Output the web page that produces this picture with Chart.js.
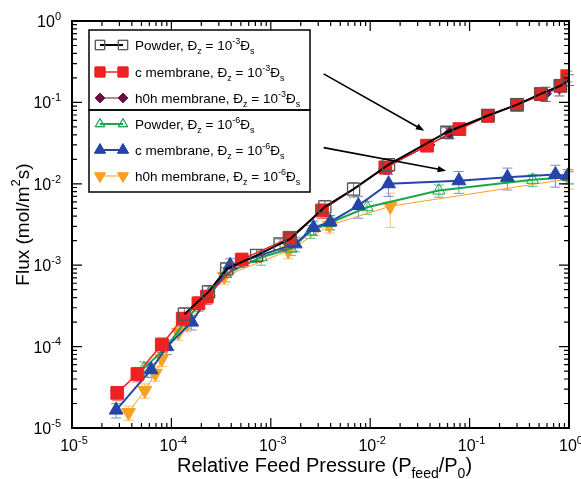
<!DOCTYPE html>
<html>
<head>
<meta charset="utf-8">
<script src="https://cdn.jsdelivr.net/npm/chart.js@4.4.1/dist/chart.umd.min.js"></script>
<style>
  html, body { margin: 0; padding: 0; background: #fff; }
</style>
</head>
<body>
<canvas id="chart" width="581" height="479"></canvas>
<script>
(function () {
  "use strict";

  // Powder, Dz = 1e-3 Ds (black open squares)
  var powder3X = [1.35e-4, 2.36e-4, 3.6e-4, 7.2e-4, 1.24e-3, 1.57e-3, 3.5e-3, 6.8e-3, 1.53e-2, 5.9e-2, 0.153, 0.30, 0.52, 0.82, 1.0];
  var powder3Y = [2.5e-4, 4.7e-4, 9.0e-4, 1.32e-3, 1.83e-3, 2.1e-3, 5.2e-3, 8.6e-3, 1.72e-2, 4.3e-2, 6.9e-2, 9.4e-2, 0.127, 0.16, 0.19];
  var powder3E = [0.2, 0.2, 0.18, 0.18, 0.15, 0.15, 0.2, 0.2, 0.18, 0.15, 0.15, 0.15, 0.15, 0.15, 0.15];

  // c membrane, Dz = 1e-3 Ds (red squares)
  var cMem3X = [2.85e-5, 4.55e-5, 8.0e-5, 1.3e-4, 1.87e-4, 2.27e-4, 5.1e-4, 1.54e-3, 3.27e-3, 1.42e-2, 3.73e-2, 7.9e-2, 0.153, 0.30, 0.52, 0.82, 0.96];
  var cMem3Y = [2.7e-5, 4.6e-5, 1.06e-4, 2.2e-4, 3.4e-4, 4.1e-4, 1.17e-3, 2.17e-3, 4.7e-3, 1.59e-2, 2.94e-2, 4.7e-2, 6.85e-2, 9.35e-2, 0.126, 0.16, 0.21];
  var cMem3E = [0.2, 0.2, 0.2, 0.2, 0.2, 0.2, 0.2, 0.2, 0.2, 0.15, 0.15, 0.15, 0.15, 0.15, 0.15, 0.15, 0.15];

  // h0h membrane, Dz = 1e-3 Ds (purple diamonds)
  var h0h3X = [1.4e-2, 3.9e-2, 6.3e-2, 0.153, 0.30, 0.58, 0.8];
  var h0h3Y = [1.55e-2, 3.0e-2, 4.2e-2, 6.8e-2, 9.3e-2, 0.128, 0.15];
  var h0h3E = [0.15, 0.15, 0.15, 0.15, 0.15, 0.2, 0.2];

  // Powder, Dz = 1e-6 Ds (green open triangles)
  var powder6X = [5.3e-5, 9.0e-5, 1.4e-4, 2.4e-4, 3.5e-4, 8.0e-4, 1.6e-3, 2.5e-3, 3.9e-3, 9.3e-3, 4.9e-2, 0.43, 1.0];
  var powder6Y = [5.4e-5, 1.0e-4, 2.1e-4, 4.6e-4, 7.8e-4, 1.25e-3, 1.6e-3, 2.6e-3, 3.3e-3, 5.15e-3, 8.25e-3, 1.12e-2, 1.2e-2];
  var powder6E = [0.2, 0.2, 0.2, 0.2, 0.2, 0.2, 0.18, 0.18, 0.18, 0.18, 0.17, 0.17, 0.17];

  // c membrane, Dz = 1e-6 Ds (blue triangles)
  var cMem6X = [2.78e-5, 6.25e-5, 9.0e-5, 1.6e-4, 3.9e-4, 1.76e-3, 2.69e-3, 3.96e-3, 7.6e-3, 1.53e-2, 7.8e-2, 0.24, 0.73, 0.97];
  var cMem6Y = [1.66e-5, 5.2e-5, 1.0e-4, 2.0e-4, 1.0e-3, 1.83e-3, 2.9e-3, 3.4e-3, 5.4e-3, 1.0e-2, 1.09e-2, 1.2e-2, 1.3e-2, 1.25e-2];
  var cMem6E = [0.2, 0.2, 0.2, 0.2, 0.2, 0.2, 0.2, 0.2, 0.3, 0.3, 0.3, 0.3, 0.3, 0.2];

  // h0h membrane, Dz = 1e-6 Ds (orange down triangles)
  var h0h6X = [3.7e-5, 5.4e-5, 6.9e-5, 8.0e-5, 1.18e-4, 1.43e-4, 3.4e-4, 1.5e-3, 3.9e-3, 1.59e-2, 1.0];
  var h0h6Y = [1.55e-5, 2.9e-5, 4.7e-5, 7.1e-5, 1.5e-4, 1.9e-4, 7.3e-4, 1.5e-3, 3.1e-3, 5.3e-3, 1.15e-2];
  var h0h6E = [0.2, 0.2, 0.2, 0.2, 0.2, 0.2, 0.2, 0.2, 0.2, 0.45, 0.25];

  var xDecades = [-5, -4, -3, -2, -1, 0];
  var yDecades = [-5, -4, -3, -2, -1, 0];

  // arrows from the legend to the curve families: [x0, y0, x1, y1]
  var arrow3 = [3.4e-3, 0.224, 3.5e-2, 4.5e-2];
  var arrow6 = [3.4e-3, 2.78e-2, 5.8e-2, 1.45e-2];

  var FONT = '"Liberation Sans", Arial, Helvetica, sans-serif';

  function pts(xs, ys) {
    return xs.map(function (x, i) { return { x: x, y: ys[i] }; });
  }

  var series = [
    { label: "powder3", xs: powder3X, ys: powder3Y, err: powder3E, color: "#000000", fill: "rgba(0,0,0,0)",
      barColor: "#777777", style: "rect", radius: 8.5, rotation: 0, width: 2, order: 0, dz: "-3", name: "Powder, " },
    { label: "cmem3", xs: cMem3X, ys: cMem3Y, err: cMem3E, color: "#ee2222", fill: "#ee2222",
      barColor: "#f06060", style: "rect", radius: 9, rotation: 0, width: 1.5, order: 1, dz: "-3", name: "c membrane, " },
    { label: "h0h3", xs: h0h3X, ys: h0h3Y, err: h0h3E, color: "#6a1040", fill: "#6a1040",
      barColor: "#8a4a70", style: "rectRot", radius: 6, rotation: 0, width: 1, order: 2, dz: "-3", name: "h0h membrane, " },
    { label: "powder6", xs: powder6X, ys: powder6Y, err: powder6E, color: "#1aa64b", fill: "rgba(0,0,0,0)",
      barColor: "#5cc08a", style: "triangle", radius: 7, rotation: 0, width: 2, order: 4, dz: "-6", name: "Powder, " },
    { label: "cmem6", xs: cMem6X, ys: cMem6Y, err: cMem6E, color: "#2546a8", fill: "#2546a8",
      barColor: "#7a8ad0", style: "triangle", radius: 8, rotation: 0, width: 2, order: 3, dz: "-6", name: "c membrane, " },
    { label: "h0h6", xs: h0h6X, ys: h0h6Y, err: h0h6E, color: "#f9a125", fill: "#f9a125",
      barColor: "#fbc070", style: "triangle", radius: 8, rotation: 180, width: 1, order: 5, dz: "-6", name: "h0h membrane, " }
  ];

  // text with sub (1) and superscript (2) parts
  function richWidth(ctx, parts, size) {
    var w = 0;
    parts.forEach(function (p) {
      ctx.font = (p[1] ? Math.round(size * 0.68) : size) + "px " + FONT;
      w += ctx.measureText(p[0]).width;
    });
    return w;
  }

  function richText(ctx, parts, x, y, size) {
    ctx.textAlign = "left";
    ctx.textBaseline = "alphabetic";
    parts.forEach(function (p) {
      ctx.font = (p[1] ? Math.round(size * 0.68) : size) + "px " + FONT;
      var dy = p[1] === 1 ? size * 0.3 : p[1] === 2 ? -size * 0.45 : 0;
      ctx.fillText(p[0], x, y + dy);
      x += ctx.measureText(p[0]).width;
    });
    return x;
  }

  function powLabel(e) {
    return [["10", 0], [e === 0 ? "0" : "-" + (-e), 2]];
  }

  var errorBars = {
    id: "errorBars",
    beforeDatasetsDraw: function (chart) {
      var ctx = chart.ctx, xs = chart.scales.x, ys = chart.scales.y;
      ctx.save();
      ctx.lineWidth = 1;
      series.slice().reverse().forEach(function (s) {
        ctx.strokeStyle = s.barColor;
        s.xs.forEach(function (xv, i) {
          var px = xs.getPixelForValue(xv);
          var top = ys.getPixelForValue(s.ys[i] * (1 + s.err[i]));
          var bot = ys.getPixelForValue(s.ys[i] * (1 - s.err[i]));
          ctx.beginPath();
          ctx.moveTo(px, top); ctx.lineTo(px, bot);
          ctx.moveTo(px - 5, top); ctx.lineTo(px + 5, top);
          ctx.moveTo(px - 5, bot); ctx.lineTo(px + 5, bot);
          ctx.stroke();
        });
      });
      ctx.restore();
    }
  };

  function drawArrow(ctx, xs, ys, a) {
    var x0 = xs.getPixelForValue(a[0]), y0 = ys.getPixelForValue(a[1]);
    var x1 = xs.getPixelForValue(a[2]), y1 = ys.getPixelForValue(a[3]);
    var ang = Math.atan2(y1 - y0, x1 - x0);
    ctx.beginPath();
    ctx.moveTo(x0, y0);
    ctx.lineTo(x1 - 6 * Math.cos(ang), y1 - 6 * Math.sin(ang));
    ctx.stroke();
    ctx.beginPath();
    ctx.moveTo(x1, y1);
    ctx.lineTo(x1 - 9 * Math.cos(ang - 0.35), y1 - 9 * Math.sin(ang - 0.35));
    ctx.lineTo(x1 - 9 * Math.cos(ang + 0.35), y1 - 9 * Math.sin(ang + 0.35));
    ctx.closePath();
    ctx.fill();
  }

  var frame = {
    id: "frame",
    afterDraw: function (chart) {
      var ctx = chart.ctx, xs = chart.scales.x, ys = chart.scales.y;
      var a = chart.chartArea;
      ctx.save();
      ctx.strokeStyle = "#000";
      ctx.fillStyle = "#000";

      // arrows
      ctx.lineWidth = 1.6;
      drawArrow(ctx, xs, ys, arrow3);
      drawArrow(ctx, xs, ys, arrow6);

      // inward ticks on all four sides
      ctx.lineWidth = 1.2;
      ctx.beginPath();
      xDecades.forEach(function (e) {
        for (var m = 1; m <= 9; m++) {
          if (e === 0 && m > 1) break;
          var px = xs.getPixelForValue(m * Math.pow(10, e));
          var len = m === 1 ? 10 : 5;
          ctx.moveTo(px, a.bottom); ctx.lineTo(px, a.bottom - len);
          ctx.moveTo(px, a.top); ctx.lineTo(px, a.top + len);
        }
      });
      yDecades.forEach(function (e) {
        for (var m = 1; m <= 9; m++) {
          if (e === 0 && m > 1) break;
          var py = ys.getPixelForValue(m * Math.pow(10, e));
          var len = m === 1 ? 10 : 5;
          ctx.moveTo(a.left, py); ctx.lineTo(a.left + len, py);
          ctx.moveTo(a.right, py); ctx.lineTo(a.right - len, py);
        }
      });
      ctx.stroke();

      ctx.lineWidth = 2;
      ctx.strokeRect(a.left, a.top, a.right - a.left, a.bottom - a.top);

      // tick labels
      var ts = 16;
      xDecades.forEach(function (e) {
        var parts = powLabel(e);
        var w = richWidth(ctx, parts, ts);
        richText(ctx, parts, xs.getPixelForValue(Math.pow(10, e)) - w / 2 + 2, a.bottom + 23, ts);
      });
      yDecades.forEach(function (e) {
        var parts = powLabel(e);
        var w = richWidth(ctx, parts, ts);
        richText(ctx, parts, a.left - 11 - w, ys.getPixelForValue(Math.pow(10, e)) + 6, ts);
      });

      // axis titles
      var xt = [["Relative Feed Pressure (P", 0], ["feed", 1], ["/P", 0], ["0", 1], [")", 0]];
      var xw = richWidth(ctx, xt, 20);
      richText(ctx, xt, (a.left + a.right) / 2 - xw / 2 + 4, a.bottom + 44, 20);

      var yt = [["Flux (mol/m", 0], ["2", 2], ["s)", 0]];
      var yw = richWidth(ctx, yt, 19);
      ctx.save();
      ctx.translate(29, (a.top + a.bottom) / 2);
      ctx.rotate(-Math.PI / 2);
      richText(ctx, yt, -yw / 2, 0, 19);
      ctx.restore();

      // legend: two stacked boxes
      var lx = 89, lr = 310, lt = 30, lm = 110, lb = 192;
      ctx.fillStyle = "#fff";
      ctx.fillRect(lx, lt, lr - lx, lb - lt);
      ctx.lineWidth = 1.5;
      ctx.strokeStyle = "#000";
      ctx.strokeRect(lx, lt, lr - lx, lm - lt);
      ctx.strokeRect(lx, lm, lr - lx, lb - lm);

      var rows = [45, 72, 98, 124, 150, 176];
      series.forEach(function (s, i) {
        var ry = rows[i];
        ctx.strokeStyle = s.color;
        ctx.lineWidth = s.width;
        ctx.beginPath();
        ctx.moveTo(100, ry); ctx.lineTo(123, ry);
        ctx.stroke();
        [100, 123].forEach(function (cx) {
          ctx.fillStyle = s.fill;
          ctx.strokeStyle = s.label === "powder3" ? "#555" : s.color;
          ctx.lineWidth = 1;
          Chart.helpers.drawPoint(ctx, {
            pointStyle: s.style, radius: s.radius * 0.78, rotation: s.rotation, borderWidth: 1
          }, cx, ry);
          ctx.fill();
          ctx.stroke();
        });
        ctx.fillStyle = "#000";
        richText(ctx, [[s.name + "\u0110", 0], ["z", 1], [" = 10", 0], [s.dz, 2], ["\u0110", 0], ["s", 1]], 135, ry + 5, 13.5);
      });

      ctx.restore();
    }
  };

  var datasets = series.map(function (s) {
    return {
      label: s.label,
      data: pts(s.xs, s.ys),
      showLine: true,
      borderColor: s.color,
      backgroundColor: s.fill,
      borderWidth: s.width,
      pointStyle: s.style,
      pointRadius: s.radius,
      pointRotation: s.rotation,
      pointBorderColor: s.label === "powder3" ? "#555" : s.color,
      pointBackgroundColor: s.fill,
      pointBorderWidth: s.label === "powder3" ? 1.3 : 1,
      tension: 0,
      order: s.order
    };
  });

  new Chart(document.getElementById("chart"), {
    type: "scatter",
    data: { datasets: datasets },
    options: {
      responsive: false,
      animation: false,
      layout: { padding: { left: 72, right: 12, top: 21, bottom: 51 } },
      scales: {
        x: { type: "logarithmic", min: 1e-5, max: 1, display: false },
        y: { type: "logarithmic", min: 1e-5, max: 1, display: false }
      },
      plugins: { legend: { display: false }, tooltip: { enabled: false } }
    },
    plugins: [errorBars, frame]
  });
})();
</script>
</body>
</html>
